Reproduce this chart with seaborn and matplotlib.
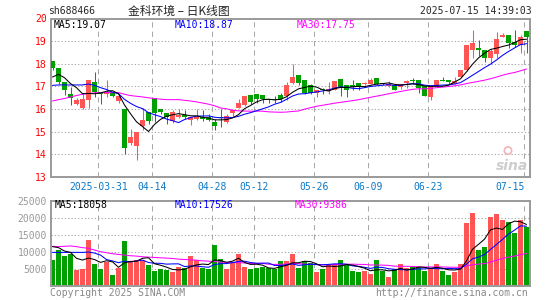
import numpy as np
import pandas as pd
import matplotlib
matplotlib.use("Agg")
import matplotlib.pyplot as plt
import matplotlib.transforms as mtransforms
import seaborn as sns

# ---------------- data ----------------
opens = [18.10, 17.81, 17.19, 16.68, 16.21, 16.06, 16.38, 17.19, 16.75, 16.65,
         16.74, 16.34, 16.01, 14.50, 14.37, 15.24, 15.87, 16.50, 15.99, 15.84,
         15.47, 15.62, 15.72, 15.53, 15.56, 15.65, 15.62, 15.43, 15.62, 15.43,
         15.82, 16.06, 16.16, 16.60, 16.65, 16.60, 16.46, 16.43, 16.60, 16.57,
         17.15, 17.49, 17.29, 17.04, 16.71, 16.85, 16.80, 16.85, 17.32, 17.04,
         17.04, 17.15, 17.09, 17.12, 17.38, 17.15, 17.00, 17.07, 16.97, 17.15,
         17.26, 17.29, 17.00, 16.53, 17.00, 17.26, 17.29, 17.12, 17.41, 17.71,
         18.62, 18.71, 18.59, 18.26, 18.41, 19.18, 19.29, 18.96, 18.81, 19.43]
highs = [18.10, 17.81, 17.19, 16.97, 16.50, 16.72, 17.29, 17.63, 16.75, 17.26,
         16.76, 16.60, 16.01, 15.13, 14.97, 16.06, 15.87, 16.50, 15.99, 15.84,
         15.94, 16.00, 15.94, 15.62, 16.00, 15.94, 15.78, 15.57, 16.01, 15.76,
         15.97, 16.43, 16.57, 16.60, 16.65, 16.60, 16.46, 16.56, 16.71, 17.19,
         18.00, 17.49, 17.29, 17.12, 16.85, 16.91, 17.19, 17.24, 17.32, 17.04,
         17.26, 17.15, 17.19, 17.38, 17.38, 17.15, 17.22, 17.07, 17.09, 17.29,
         17.35, 17.29, 17.00, 17.00, 17.29, 17.41, 17.29, 17.41, 17.71, 18.81,
         19.50, 19.03, 18.59, 18.66, 19.40, 19.35, 19.29, 19.47, 19.29, 19.43]
lows = [17.71, 17.12, 16.60, 16.16, 16.16, 16.00, 16.06, 16.53, 16.21, 16.53,
        16.53, 16.24, 14.00, 14.40, 13.76, 15.06, 15.35, 15.43, 15.78, 15.35,
        15.38, 15.60, 15.57, 15.28, 15.50, 15.47, 15.47, 15.06, 15.21, 15.38,
        15.62, 16.06, 16.12, 16.21, 16.27, 16.27, 16.27, 16.27, 16.31, 16.38,
        17.09, 17.04, 16.68, 16.68, 16.53, 16.65, 16.65, 16.82, 16.56, 16.53,
        16.85, 16.85, 17.06, 17.09, 17.07, 17.04, 16.97, 16.82, 16.88, 16.91,
        17.10, 16.71, 16.56, 16.38, 16.97, 17.24, 17.09, 17.09, 17.41, 17.68,
        18.26, 18.32, 18.07, 17.97, 18.26, 19.18, 18.71, 18.74, 18.47, 18.47]
closes = [17.81, 17.19, 16.82, 16.50, 16.38, 16.46, 17.26, 16.75, 16.68, 16.75,
          16.59, 16.56, 14.29, 14.74, 14.97, 15.53, 15.47, 15.84, 15.87, 15.65,
          15.87, 15.72, 15.62, 15.62, 15.62, 15.57, 15.53, 15.25, 15.60, 15.68,
          15.94, 16.26, 16.57, 16.31, 16.46, 16.43, 16.38, 16.41, 16.43, 17.04,
          17.41, 17.15, 16.71, 16.71, 16.85, 16.82, 16.86, 17.24, 16.97, 16.85,
          16.97, 16.97, 17.16, 17.26, 17.12, 17.09, 17.12, 16.85, 17.09, 17.24,
          17.24, 16.94, 16.56, 17.00, 17.26, 17.25, 17.19, 17.24, 17.71, 18.81,
          18.93, 18.59, 18.26, 18.56, 19.10, 19.29, 18.91, 18.81, 19.20, 19.20]
volumes = [7400, 10400, 8600, 9200, 4600, 4800, 13400, 6400, 5000, 7000,
           3200, 5300, 13100, 7000, 7400, 7400, 6200, 4200, 4800, 4600,
           3900, 5500, 5100, 8600, 7400, 5100, 4800, 11900, 7700, 4800,
           6800, 9200, 5600, 4800, 5100, 5400, 5100, 4900, 7200, 7200,
           9200, 5100, 7200, 6700, 3900, 4800, 6200, 6500, 7400, 6000,
           4200, 3900, 4200, 3500, 7400, 4200, 2400, 4800, 6500, 5100,
           5500, 5500, 4200, 5100, 6500, 4200, 3200, 3900, 6500, 18500,
           21500, 10500, 11500, 20300, 21200, 19400, 18800, 15500, 19400, 17200]

# moving-average values at the left edge (history before the window)
ma5_head = [17.41, 17.53, 17.38, 17.12]
ma10_head = [17.04, 17.06, 17.06, 17.06, 17.06, 17.06, 17.10, 17.04, 16.94]
ma30_head = [16.35, 16.41, 16.46, 16.53, 16.59, 16.65, 16.68, 16.71, 16.72, 16.72,
             16.72, 16.72, 16.65, 16.59, 16.56, 16.53, 16.49, 16.46, 16.43, 16.41,
             16.41, 16.41, 16.38, 16.35, 16.31, 16.26, 16.21, 16.14, 16.04]
vma5_head = [11500, 11200, 10200, 9800]
vma10_head = [9800, 9800, 9800, 9800, 9800, 9800, 9900, 9600, 9000]
vma30_head = [11600, 11500, 11600, 11700, 11500, 11200, 11000, 10500, 10000, 9700,
              9400, 9200, 9000, 8800, 8700, 8500, 8400, 8300, 8200, 8100,
              8000, 7800, 7700, 7600, 7500, 7300, 7200, 7100, 6900]

tick_idx = [8, 17, 27, 34, 44, 53, 63, 79]
tick_labels = ["2025-03-31", "04-14", "04-28", "05-12", "05-26", "06-09", "06-23", "07-15"]
price_ticks = [13, 14, 15, 16, 17, 18, 19, 20]
vol_ticks = [5000, 10000, 15000, 20000, 25000]

# ---------------- helpers ----------------
def ma_with_head(values, n, head):
    s = pd.Series(values, dtype=float).rolling(n).mean().to_numpy()
    s[:len(head)] = head
    return s

idx = np.arange(len(closes))
ma5 = ma_with_head(closes, 5, ma5_head)
ma10 = ma_with_head(closes, 10, ma10_head)
ma30 = ma_with_head(closes, 30, ma30_head)
vma5 = ma_with_head(volumes, 5, vma5_head)
vma10 = ma_with_head(volumes, 10, vma10_head)
vma30 = ma_with_head(volumes, 30, vma30_head)

RED = "#FF5555"
GREEN = "#00A000"
FRAME = "#9A9A9A"
GRID = "#A8A8A8"
MONO = "DejaVu Sans Mono"
LW = 0.75

sns.set_style("white")
plt.rcParams["font.family"] = [MONO, "DejaVu Sans"]

W, H = 545, 300
fig = plt.figure(figsize=(W / 100, H / 100), dpi=100)
fig.patch.set_facecolor("white")

def fx(px):
    return px / W

def fy(py):
    return 1 - py / H

left_px, right_px = 51, 529.5
ax1 = fig.add_axes([fx(left_px), fy(176.7), (right_px - left_px) / W, (176.7 - 18.5) / H])
ax2 = fig.add_axes([fx(left_px), fy(285.5), (right_px - left_px) / W, (285.5 - 201) / H])

direction = ["up" if c >= o else "down" for o, c in zip(opens, closes)]
colors = [RED if d == "up" else GREEN for d in direction]

# ---------------- price panel ----------------
for ax in (ax1, ax2):
    for i in tick_idx:
        ax.axvline(i - 0.35, color=GRID, lw=LW, ls=(0, (5, 4)), zorder=0)

for v in price_ticks[1:-1]:
    ax1.axhline(v, color=GRID, lw=LW, ls=(0, (1.2, 2)), zorder=0)

body_bottom = np.minimum(opens, closes)
body_h = np.maximum(np.abs(np.array(closes) - np.array(opens)), 0.045)
ax1.vlines(idx, lows, highs, colors=colors, lw=LW, zorder=2)
ax1.bar(idx, body_h, bottom=body_bottom, width=0.8, color=colors, linewidth=0, zorder=3)

sns.lineplot(x=idx, y=ma30, color="#FF00FF", lw=LW, ax=ax1, errorbar=None, zorder=4)
sns.lineplot(x=idx, y=ma10, color="#0000FF", lw=LW, ax=ax1, errorbar=None, zorder=5)
sns.lineplot(x=idx, y=ma5, color="black", lw=LW, ax=ax1, errorbar=None, zorder=6)

ax1.set_xlim(-0.25, 79.5)
ax1.set_ylim(13, 20)
ax1.set_yticks(price_ticks)
ax1.set_yticklabels([str(t) for t in price_ticks], color="red", fontsize=7, family=MONO)
ax1.set_xticks([])
ax1.tick_params(axis="y", length=0, pad=3)
ax1.set_xlabel("")
ax1.set_ylabel("")

# date labels
trans = mtransforms.blended_transform_factory(ax1.transData, ax1.transAxes)
for k, (i, lab) in enumerate(zip(tick_idx, tick_labels)):
    ha = "right" if k == len(tick_idx) - 1 else "center"
    ax1.text(i - 0.35, -0.068, lab, transform=trans, ha=ha, va="center",
             color="#0A78C8", fontsize=7, family=MONO, clip_on=False)

# sina watermark
ax1.text(0.997, 0.025, "sina", transform=ax1.transAxes, ha="right", va="bottom",
         fontsize=10, fontweight="bold", style="italic", color="#CDCDCD",
         family="DejaVu Sans", zorder=1)
ax1.scatter([0.955], [0.165], transform=ax1.transAxes, s=28, facecolor="none",
            edgecolor="#F2B4B4", linewidth=1.2, zorder=1)

# ---------------- volume panel ----------------
for v in vol_ticks[:-1]:
    ax2.axhline(v, color=GRID, lw=LW, ls=(0, (1.2, 2)), zorder=0)

vdf = pd.DataFrame({"idx": idx, "vol": volumes, "dir": direction})
sns.barplot(data=vdf, x="idx", y="vol", hue="dir", palette={"up": RED, "down": GREEN},
            native_scale=True, dodge=False, width=0.8, saturation=1, errorbar=None,
            linewidth=0, legend=False, ax=ax2, zorder=2)
sns.lineplot(x=idx, y=vma30, color="#FF00FF", lw=LW, ax=ax2, errorbar=None, zorder=4)
sns.lineplot(x=idx, y=vma10, color="#0000FF", lw=LW, ax=ax2, errorbar=None, zorder=5)
sns.lineplot(x=idx, y=vma5, color="black", lw=LW, ax=ax2, errorbar=None, zorder=6)

ax2.set_xlim(-0.25, 79.5)
ax2.set_ylim(0, 25000)
ax2.set_yticks(vol_ticks)
ax2.set_yticklabels([str(t) for t in vol_ticks], color="#999999", fontsize=7, family=MONO)
ax2.set_xticks([])
ax2.tick_params(axis="y", length=0, pad=3)
ax2.set_xlabel("")
ax2.set_ylabel("")

for ax in (ax1, ax2):
    for sp in ax.spines.values():
        sp.set_visible(True)
        sp.set_color(FRAME)
        sp.set_linewidth(1.4)
    ax.set_facecolor("white")

# ---------------- texts ----------------
fig.text(fx(48), fy(11.5), "sh688466", ha="left", va="center", fontsize=7, family=MONO)
fig.text(fx(179), fy(11.5), "金科环境 – 日K线图", ha="center", va="center", fontsize=8.5,
         family=["Noto Sans CJK SC", "DejaVu Sans"])
fig.text(fx(532), fy(11.5), "2025-07-15 14:39:03", ha="right", va="center", fontsize=7, family=MONO)

fig.text(fx(54), fy(25.5), "MA5:19.07", ha="left", va="center", fontsize=7, family=MONO, color="black")
fig.text(fx(175), fy(25.5), "MA10:18.87", ha="left", va="center", fontsize=7, family=MONO, color="#0000FF")
fig.text(fx(296.5), fy(25.5), "MA30:17.75", ha="left", va="center", fontsize=7, family=MONO, color="#FF00FF")

fig.text(fx(54.5), fy(205.5), "MA5:18058", ha="left", va="center", fontsize=7, family=MONO, color="black")
fig.text(fx(174.5), fy(205.5), "MA10:17526", ha="left", va="center", fontsize=7, family=MONO, color="#0000FF")
fig.text(fx(294.5), fy(205.5), "MA30:9386", ha="left", va="center", fontsize=7, family=MONO, color="#FF00FF")

fig.text(fx(50), fy(293), "Copyright 2025 SINA.COM", ha="left", va="center", fontsize=7,
         family=MONO, color="#888888")
fig.text(fx(528), fy(293), "http://finance.sina.com.cn", ha="right", va="center", fontsize=7,
         family=MONO, color="#888888")

fig.savefig("out.png", dpi=100, facecolor="white")
